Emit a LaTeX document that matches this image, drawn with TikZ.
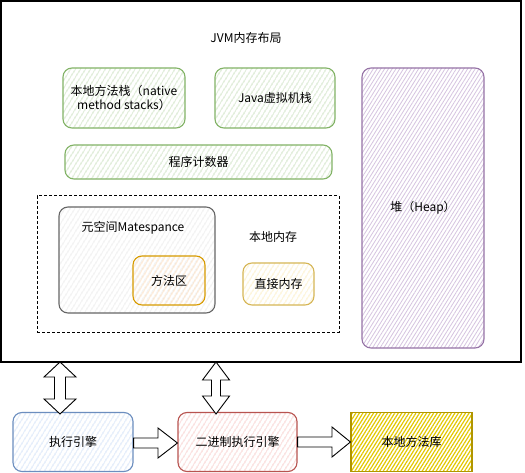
\documentclass[tikz,border=0pt]{standalone}
\usepackage{fontspec}
\setmainfont{Noto Sans CJK SC}
\usetikzlibrary{patterns.meta}
\definecolor{greenS}{HTML}{82B366}\definecolor{greenF}{HTML}{B3D4A4}
\definecolor{purpS}{HTML}{9673A6}\definecolor{purpF}{HTML}{D6C4E0}
\definecolor{grayS}{HTML}{666666}\definecolor{grayF}{HTML}{E0E0E0}
\definecolor{orS}{HTML}{D79B00}\definecolor{orF}{HTML}{FFD3A6}
\definecolor{yeS}{HTML}{D6B656}\definecolor{yeF}{HTML}{FCE6A4}
\definecolor{blS}{HTML}{6C8EBF}\definecolor{blF}{HTML}{BDD4F4}
\definecolor{reS}{HTML}{B85450}\definecolor{reF}{HTML}{F4B4B0}
\definecolor{libS}{HTML}{B09500}\definecolor{libF}{HTML}{E3C800}
\tikzset{
  box/.style={draw=#1S, line width=1.1pt, rounded corners=9pt, inner sep=0pt, align=center,
    pattern={Lines[angle=58,distance=4pt,line width=0.8pt]}, pattern color=#1F},
  txt/.style={inner sep=1pt, align=center},
  blockarrow/.style={draw=black, fill=white, line width=0.9pt, line join=miter},
  every node/.style={font=\fontsize{12}{14.5}\selectfont}
}
\begin{document}
\begin{tikzpicture}[x=1pt,y=-1pt]
\useasboundingbox (0,0) rectangle (525,473);
\fill[white] (0,0) rectangle (525,473);
% outer frame
\node[draw=black, line width=1.3pt, minimum width=520pt, minimum height=361pt, inner sep=0pt] (outer) at (261,181.5) {};
\node[txt] (title) at (246,38) {JVM内存布局};
% top boxes
\node[box=green, minimum width=122pt, minimum height=60pt] (nms) at (124,98) {本地方法栈（native\\method stacks）};
\node[box=green, minimum width=120pt, minimum height=60pt] (jvms) at (275,98) {Java虚拟机栈};
\node[box=green, minimum width=267pt, minimum height=34pt] (pc) at (198.5,162) {程序计数器};
% heap
\node[box=purp, minimum width=122pt, minimum height=280pt,
  pattern={Lines[angle=58,distance=3.2pt,line width=0.8pt]}] (heap) at (423,208) {堆（Heap）};
% native memory dashed area
\node[draw=black, dash pattern=on 3pt off 2pt, line width=1pt, minimum width=302pt, minimum height=136pt, inner sep=0pt] (native) at (188,264) {};
\node[txt] (nativelbl) at (273,237) {本地内存};
\node[box=gray, minimum width=156pt, minimum height=106pt] (meta) at (137,260) {};
\node[txt] (metalbl) at (133,228) {元空间Matespance};
\node[box=or, minimum width=72pt, minimum height=49pt] (method) at (169,280.5) {方法区};
\node[box=ye, minimum width=71pt, minimum height=42pt] (direct) at (278.5,284) {直接内存};
% bottom boxes
\node[box=bl, minimum width=120pt, minimum height=59pt] (exec) at (73,442) {执行引擎};
\node[box=re, minimum width=119pt, minimum height=59pt] (bin) at (237.5,442) {二进制执行引擎};
\node[box=lib, rounded corners=0pt, minimum width=121pt, minimum height=59pt,
  pattern={Lines[angle=58,distance=3pt,line width=1.2pt]}] (lib) at (411.5,442) {本地方法库};
% block arrows
\draw[blockarrow] (60,362) -- (76,377) -- (65.5,377) -- (65.5,399) -- (76,399) -- (60,414)
  -- (44,399) -- (54.5,399) -- (54.5,377) -- (44,377) -- cycle;
\draw[blockarrow] (216,362) -- (229.5,380) -- (220.5,380) -- (220.5,396) -- (229.5,396) -- (216,414)
  -- (202.5,396) -- (211.5,396) -- (211.5,380) -- (202.5,380) -- cycle;
\draw[blockarrow] (exec.east |- 0,438) -- (158,438) -- (158,428) -- (bin.west |- 0,443) -- (158,458)
  -- (158,448) -- (exec.east |- 0,448) -- cycle;
\draw[blockarrow] (bin.east |- 0,437) -- (332,437) -- (332,427) -- (lib.west |- 0,442) -- (332,457)
  -- (332,447) -- (bin.east |- 0,447) -- cycle;
\end{tikzpicture}
\end{document}
